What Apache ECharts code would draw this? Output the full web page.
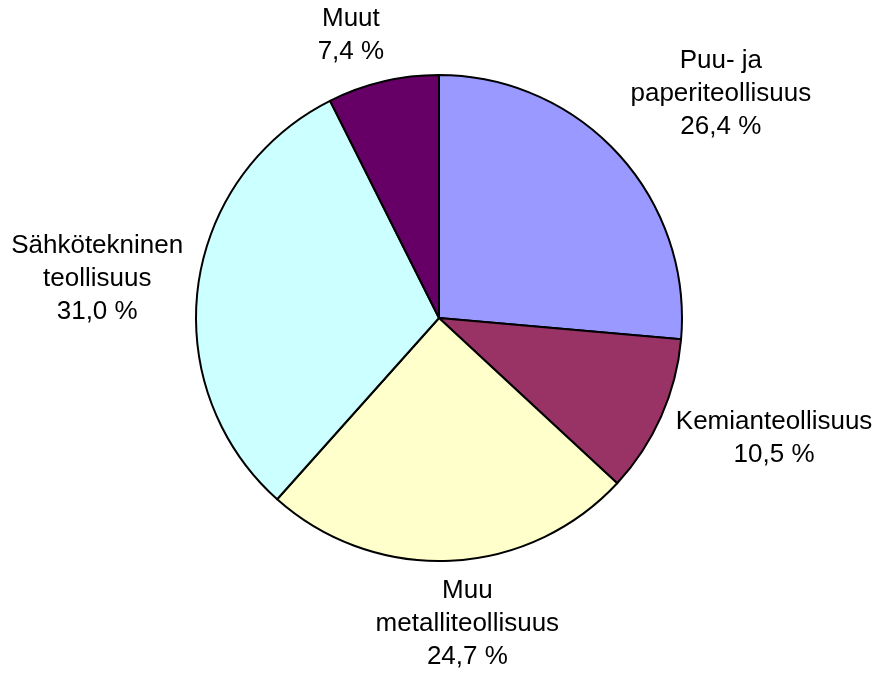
<!DOCTYPE html>
<html>
<head>
<meta charset="utf-8">
<script src="https://cdn.jsdelivr.net/npm/echarts@6/dist/echarts.min.js"></script>
<style>
html,body{margin:0;padding:0;background:#fff;}
#chart{width:882px;height:674px;}
</style>
</head>
<body>
<div id="chart"></div>
<script>
// Data
var categories = ["Puu- ja\npaperiteollisuus", "Kemianteollisuus", "Muu\nmetalliteollisuus", "Sähkötekninen\nteollisuus", "Muut"];
var shares = [26.4, 10.5, 24.7, 31.0, 7.4];

// Styles
var sliceColors = ["#9999FF", "#993366", "#FFFFCC", "#CCFFFF", "#660066"];
var centerX = 439, centerY = 318, radius = 243;
// label placement: distance of label centre from pie centre and angle shift from slice mid-angle (deg)
var labelDist = [360, 356, 307, 344, 296];
var labelAngleShift = [4.0, -4.2, -2.6, -1.1, -4.0];

var total = shares.reduce(function (a, b) { return a + b; }, 0);
var midAngles = [];
var acc = 0;
for (var i = 0; i < shares.length; i++) {
  midAngles.push((acc + shares[i] / 2) / total * 360);
  acc += shares[i];
}

var chart = echarts.init(document.getElementById('chart'));
chart.setOption({
  animation: false,
  backgroundColor: '#ffffff',
  series: [{
    type: 'pie',
    center: [centerX, centerY],
    radius: [0, radius],
    startAngle: 90,
    clockwise: true,
    avoidLabelOverlap: false,
    data: categories.map(function (c, i) {
      return { name: c, value: shares[i], itemStyle: { color: sliceColors[i] } };
    }),
    itemStyle: { borderColor: '#000000', borderWidth: 2 },
    emphasis: { disabled: true },
    label: {
      show: true,
      position: 'outside',
      color: '#000000',
      fontFamily: 'Liberation Sans, Arial, sans-serif',
      fontSize: 26,
      lineHeight: 33,
      align: 'center',
      formatter: function (p) {
        return p.name + '\n' + p.value.toFixed(1).replace('.', ',') + ' %';
      }
    },
    labelLine: { show: false },
    labelLayout: function (p) {
      var i = p.dataIndex;
      var a = (midAngles[i] + labelAngleShift[i]) * Math.PI / 180;
      var d = labelDist[i];
      return {
        x: centerX + d * Math.sin(a),
        y: centerY - d * Math.cos(a),
        align: 'center',
        verticalAlign: 'middle'
      };
    }
  }]
});
</script>
</body>
</html>
